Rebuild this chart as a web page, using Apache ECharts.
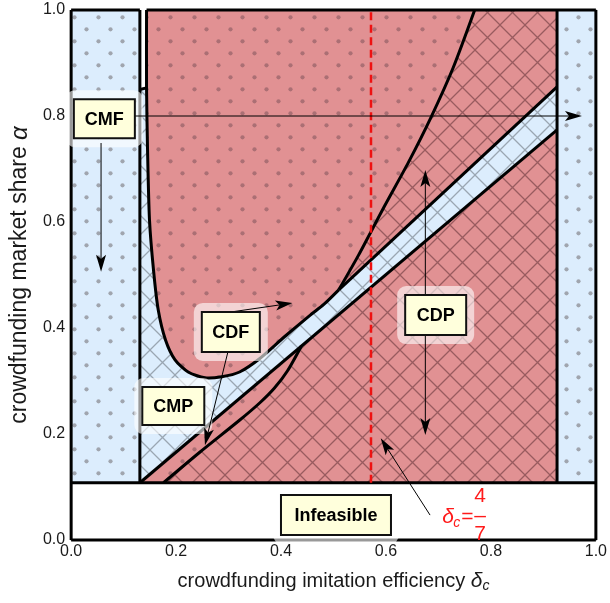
<!DOCTYPE html>
<html><head><meta charset="utf-8">
<script src="https://cdn.jsdelivr.net/npm/echarts@6/dist/echarts.min.js"></script>
<style>html,body{margin:0;padding:0;background:#fff}#c{width:610px;height:603px}</style>
</head><body><div id="c"></div>
<script>
// ---------- data ----------
const xTickValues = [0, 0.2, 0.4, 0.6, 0.8, 1.0];
const yTickValues = [0, 0.2, 0.4, 0.6, 0.8, 1.0];
const alphaMin = 0.108;          // feasibility bound
const xLeft = 0.131;             // left CMF band edge
const xRight = 0.926;            // right CMF band edge
const xDash = 4 / 7;             // delta_c = 4/7
const notchAlpha = [0.850, 0.853];
const uCurve = [
  [0.1437, 1.000], [0.1437, 0.853], [0.1456, 0.736], [0.1493, 0.604], [0.1570, 0.509],
  [0.1660, 0.434], [0.1800, 0.377], [0.1980, 0.340], [0.2230, 0.317], [0.2550, 0.306],
  [0.2870, 0.308], [0.3210, 0.317], [0.3590, 0.342], [0.4060, 0.383], [0.4540, 0.423],
  [0.4820, 0.445], [0.5100, 0.472]
];
const steepCurve = [[0.510, 0.472], [0.548, 0.538], [0.595, 0.626], [0.643, 0.713], [0.686, 0.798], [0.728, 0.891], [0.769, 1.0]];
const bandUpper = [[0.510, 0.472], [0.926, 0.855]];
const bandLower = [[0.131, 0.108], [0.926, 0.774]];
const wedgeLower = [[0.176, 0.108], [0.2457, 0.166], [0.3214, 0.2264], [0.3592, 0.2585], [0.3875, 0.2868], [0.4121, 0.3189], [0.4386, 0.3657]];

const labelNames = ['CMF', 'CDF', 'CMP', 'CDP', 'Infeasible'];
const labelCenters = [[0.0633, 0.795], [0.3043, 0.3925], [0.1947, 0.2528], [0.6947, 0.4245], [0.5047, 0.047]];
const arrowFrom = [[0.121, 0.8], [0.057, 0.749], [0.289, 0.428], [0.302, 0.368], [0.675, 0.462], [0.675, 0.387], [0.684, 0.047]];
const arrowTo   = [[0.9735, 0.8], [0.057, 0.506], [0.4216, 0.447], [0.255, 0.179], [0.675, 0.698], [0.675, 0.198], [0.590, 0.192]];
const deltaLabelAt = [0.707, 0.043];

// ---------- styles ----------
const RED = '#e19193', BLUE = '#dcedfd';
const boxSizes = [[61, 39], [58, 40], [62, 38], [61, 40], [110, 40]];
const FONT = '"Liberation Sans", Arial, sans-serif';

function dotPattern(bg, dot) {
  const c = document.createElement('canvas'); c.width = 24; c.height = 24;
  const g = c.getContext('2d'); g.fillStyle = bg; g.fillRect(0, 0, 24, 24);
  g.fillStyle = dot;
  [[2.5, 17.3], [14.5, 5.3]].forEach(p => { g.beginPath(); g.arc(p[0], p[1], 2.1, 0, Math.PI * 2); g.fill(); });
  return { image: c, repeat: 'repeat' };
}
function hatchPattern(bg, line) {
  const s = 25;
  const c = document.createElement('canvas'); c.width = s; c.height = s;
  const g = c.getContext('2d'); g.fillStyle = bg; g.fillRect(0, 0, s, s);
  g.strokeStyle = line; g.lineWidth = 1.3;
  g.beginPath(); g.moveTo(-1, -1); g.lineTo(s + 1, s + 1); g.moveTo(s + 1, -1); g.lineTo(-1, s + 1); g.stroke();
  return { image: c, repeat: 'repeat' };
}
const P_BLUE_DOT = dotPattern(BLUE, '#a0a5ae');
const P_RED_DOT = dotPattern(RED, '#ab6f74');
const P_RED_HATCH = hatchPattern(RED, 'rgba(105,55,60,0.6)');
const P_BLUE_HATCH = hatchPattern(BLUE, 'rgba(110,118,128,0.6)');

// ---------- regions built from the arrays ----------
const regions = [
  { pts: [[0, alphaMin], [xLeft, alphaMin], [xLeft, 1], [0, 1]], fill: P_BLUE_DOT },
  { pts: [[xRight, alphaMin], [1, alphaMin], [1, 1], [xRight, 1]], fill: P_BLUE_DOT },
  { pts: [[0, 0], [1, 0], [1, alphaMin], [0, alphaMin]], fill: '#ffffff' },
  { pts: [[xLeft, alphaMin], [xRight, alphaMin], [xRight, 1], [xLeft, 1]], fill: P_RED_HATCH },
  { pts: [[xLeft, notchAlpha[0]], uCurve[1], uCurve[0], [xLeft, 1]], fill: '#ffffff' },
  { pts: uCurve.concat(steepCurve.slice(1)), fill: P_RED_DOT },
  { pts: [bandLower[0], bandLower[1], bandUpper[1]].concat(uCurve.slice(1).reverse(), [[xLeft, notchAlpha[0]]]), fill: P_BLUE_HATCH },
  { pts: [[xLeft, alphaMin]].concat(wedgeLower.slice().reverse()), fill: P_RED_DOT }
];
const curvedLines = [uCurve, steepCurve, wedgeLower];
const straightLines = [
  bandUpper, bandLower,
  [[xLeft, alphaMin], [xLeft, 1]], [[xRight, alphaMin], [xRight, 1]],
  [[0, 1], [xLeft, 1]], [[uCurve[0][0], 1], [1, 1]],
  [[xLeft, notchAlpha[0]], [uCurve[1][0], notchAlpha[1]]],
  [[0, 0], [0, 1]], [[1, 0], [1, 1]], [[0, 0], [1, 0]], [[0, alphaMin], [1, alphaMin]]
];

function regionSeries(reg, z) {
  return {
    type: 'custom', z: z, silent: true, data: [[0, 0]],
    renderItem: (params, api) => ({
      type: 'polygon', shape: { points: reg.pts.map(p => api.coord(p)) },
      style: { fill: reg.fill, stroke: null }
    })
  };
}

function arrowEls(api, from, to) {
  const p0 = api.coord(from), p1 = api.coord(to);
  const dx = p1[0] - p0[0], dy = p1[1] - p0[1], L = Math.hypot(dx, dy);
  const ux = dx / L, uy = dy / L, nx = -uy, ny = ux;
  const len = 17, hw = 5, notch = 4;
  const b = [p1[0] - ux * len, p1[1] - uy * len];
  const m = [p1[0] - ux * (len - notch), p1[1] - uy * (len - notch)];
  return [
    { type: 'line', shape: { x1: p0[0], y1: p0[1], x2: m[0], y2: m[1] }, style: { stroke: '#000', lineWidth: 1 } },
    { type: 'polygon', shape: { points: [p1, [b[0] + nx * hw, b[1] + ny * hw], m, [b[0] - nx * hw, b[1] - ny * hw]] }, style: { fill: '#000' } }
  ];
}

const series = regions.map((r, i) => regionSeries(r, 1 + i));
series.push({
  type: 'custom', z: 20, silent: true, data: [[0, 0]],
  renderItem: (params, api) => ({
    type: 'group',
    children: curvedLines.map(l => ({
      type: 'polyline', shape: { points: l.map(p => api.coord(p)), smooth: 0.25 },
      style: { stroke: '#000', lineWidth: 3, fill: null, lineJoin: 'round' }
    })).concat(straightLines.map(l => ({
      type: 'polyline', shape: { points: l.map(p => api.coord(p)) },
      style: { stroke: '#000', lineWidth: 3, fill: null, lineJoin: 'round' }
    }))).concat([{
      type: 'line',
      shape: (() => { const a = api.coord([xDash, alphaMin]), b = api.coord([xDash, 1]); return { x1: a[0], y1: a[1], x2: b[0], y2: b[1] }; })(),
      style: { stroke: '#ee1111', lineWidth: 2.5, lineDash: [8, 4.5] }
    }])
  })
});
series.push({
  type: 'custom', z: 30, silent: true, data: [[0, 0]],
  renderItem: (params, api) => {
    const els = [];
    labelCenters.forEach((c, i) => {
      const p = api.coord(c), w = boxSizes[i][0], h = boxSizes[i][1];
      els.push({ type: 'rect', shape: { x: p[0] - w / 2 - 8, y: p[1] - h / 2 - 9, width: w + 16, height: h + 18, r: 9 }, style: { fill: 'rgba(255,255,255,0.6)' } });
    });
    arrowFrom.forEach((f, i) => { arrowEls(api, f, arrowTo[i]).forEach(e => els.push(e)); });
    labelCenters.forEach((c, i) => {
      const p = api.coord(c), w = boxSizes[i][0], h = boxSizes[i][1];
      els.push({ type: 'rect', shape: { x: p[0] - w / 2, y: p[1] - h / 2, width: w, height: h }, style: { fill: '#ffffdc', stroke: '#111', lineWidth: 2 } });
      els.push({ type: 'text', style: { text: labelNames[i], x: p[0], y: p[1] + 1, align: 'center', verticalAlign: 'middle', font: 'bold 18px ' + FONT, fill: '#000' } });
    });
    const d = api.coord(deltaLabelAt);
    const red = '#ff1a1a';
    els.push({ type: 'text', style: { text: 'δ', x: d[0], y: d[1], align: 'left', verticalAlign: 'middle', font: 'italic 21px ' + FONT, fill: red } });
    els.push({ type: 'text', style: { text: 'c', x: d[0] + 11, y: d[1] + 6, align: 'left', verticalAlign: 'middle', font: 'italic 14px ' + FONT, fill: red } });
    els.push({ type: 'text', style: { text: '=', x: d[0] + 19, y: d[1], align: 'left', verticalAlign: 'middle', font: '21px ' + FONT, fill: red } });
    els.push({ type: 'text', style: { text: '–', x: d[0] + 38, y: d[1] - 1, align: 'center', verticalAlign: 'middle', font: '21px ' + FONT, fill: red } });
    els.push({ type: 'text', style: { text: '4', x: d[0] + 38, y: d[1] - 21, align: 'center', verticalAlign: 'middle', font: '21px ' + FONT, fill: red } });
    els.push({ type: 'text', style: { text: '7', x: d[0] + 38, y: d[1] + 17, align: 'center', verticalAlign: 'middle', font: '21px ' + FONT, fill: red } });
    return { type: 'group', children: els };
  }
});

const axisCommon = {
  type: 'value', min: 0, max: 1, interval: 0.2,
  axisLine: { show: true, onZero: false, lineStyle: { color: '#9a9a9a', width: 1 } },
  axisTick: { show: true, inside: true, length: 6, lineStyle: { color: '#9a9a9a' } },
  minorTick: { show: true, splitNumber: 4, length: 3, lineStyle: { color: '#aaaaaa' } },
  splitLine: { show: false }
};
const chart = echarts.init(document.getElementById('c'), null, { renderer: 'canvas' });
chart.setOption({
  animation: false,
  grid: { left: 70, right: 11, top: 10, bottom: 63 },
  xAxis: [
    Object.assign({}, axisCommon, {
      position: 'bottom',
      axisLabel: { formatter: v => xTickValues.includes(+v.toFixed(1)) ? v.toFixed(1) : '', fontSize: 16, color: '#1a1a1a', margin: 4, fontFamily: FONT },
      name: 'crowdfunding imitation efficiency {d|δ}{s|c}', nameLocation: 'middle', nameGap: 29,
      nameTextStyle: { fontSize: 20, color: '#1a1a1a', fontFamily: FONT,
        rich: { d: { fontSize: 21, fontStyle: 'italic', fontFamily: FONT, color: '#1a1a1a' }, s: { fontSize: 14, fontStyle: 'italic', fontFamily: FONT, color: '#1a1a1a', verticalAlign: 'bottom', padding: [10, 0, 0, 0] } } }
    }),
    Object.assign({}, axisCommon, { position: 'top', axisLabel: { show: false } })
  ],
  yAxis: [
    Object.assign({}, axisCommon, {
      position: 'left',
      axisLabel: { formatter: v => yTickValues.includes(+v.toFixed(1)) ? v.toFixed(1) : '', fontSize: 16, color: '#1a1a1a', margin: 6, fontFamily: FONT },
      name: 'crowdfunding market share {a|α}', nameLocation: 'middle', nameGap: 37,
      nameTextStyle: { fontSize: 23, color: '#1a1a1a', fontFamily: FONT,
        rich: { a: { fontSize: 24, fontStyle: 'italic', fontFamily: FONT, color: '#1a1a1a' } } }
    }),
    Object.assign({}, axisCommon, { position: 'right', axisLabel: { show: false } })
  ],
  series: series
});
</script></body></html>
